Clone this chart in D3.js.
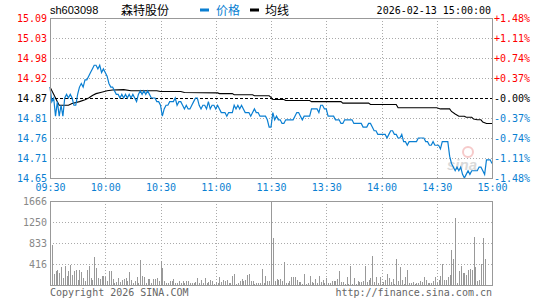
<!DOCTYPE html>
<html><head><meta charset="utf-8">
<script src="https://cdn.jsdelivr.net/npm/d3@7/dist/d3.min.js"></script>
<style>body{margin:0;background:#fff}svg{display:block}</style>
</head><body>
<script>
const prevClose = 14.87;
const priceTicks = ["15.09","15.03","14.98","14.92","14.87","14.81","14.76","14.71","14.65"];
const pctTicks = ["+1.48%","+1.11%","+0.74%","+0.37%","-0.00%","-0.37%","-0.74%","-1.11%","-1.48%"];
const timeLabels = ["09:30","10:00","10:30","11:00","11:30","13:30","14:00","14:30","15:00"];
const volTicks = [1666,1250,833,416];

const price = [
14.90,14.86,14.87,14.82,14.86,14.82,14.85,14.82,14.87,14.88,
14.87,14.88,14.87,14.85,14.85,14.88,14.90,14.91,14.90,14.92,
14.92,14.93,14.94,14.95,14.96,14.96,14.95,14.96,14.94,14.95,
14.94,14.93,14.91,14.90,14.90,14.89,14.88,14.88,14.87,14.88,
14.87,14.88,14.87,14.88,14.87,14.88,14.87,14.86,14.88,14.89,
14.88,14.89,14.88,14.89,14.88,14.87,14.87,14.87,14.86,14.86,
14.85,14.82,14.84,14.85,14.85,14.86,14.86,14.86,14.87,14.85,
14.86,14.86,14.85,14.84,14.85,14.84,14.84,14.85,14.86,14.87,
14.87,14.85,14.84,14.85,14.85,14.84,14.86,14.84,14.85,14.85,
14.84,14.85,14.84,14.83,14.83,14.83,14.82,14.83,14.83,14.83,
14.85,14.84,14.85,14.84,14.85,14.84,14.83,14.83,14.83,14.82,
14.83,14.84,14.83,14.83,14.82,14.82,14.82,14.82,14.81,14.79,
14.79,14.83,14.81,14.82,14.81,14.81,14.80,14.80,14.81,14.81,
14.81,14.81,14.81,14.82,14.83,14.83,14.82,14.81,14.82,14.82,
14.82,14.82,14.84,14.84,14.84,14.84,14.83,14.85,14.85,14.84,
14.84,14.82,14.82,14.82,14.82,14.81,14.81,14.81,14.80,14.80,
14.81,14.81,14.81,14.81,14.81,14.80,14.80,14.80,14.80,14.80,
14.79,14.79,14.79,14.80,14.80,14.79,14.78,14.78,14.77,14.77,
14.77,14.77,14.77,14.76,14.77,14.78,14.78,14.77,14.77,14.76,
14.76,14.77,14.75,14.75,14.74,14.75,14.75,14.75,14.75,14.75,
14.76,14.76,14.76,14.76,14.75,14.75,14.74,14.74,14.75,14.74,
14.74,14.74,14.73,14.75,14.75,14.75,14.75,14.71,14.69,14.68,
14.67,14.68,14.67,14.68,14.66,14.65,14.66,14.67,14.66,14.67,
14.67,14.67,14.67,14.68,14.68,14.67,14.66,14.70,14.70,14.70,
14.69];

const avgMinutes = [0,2,4,5,10,12,16,19,21,23,25,28,31,34,40,44,58,60,71,73,91,92,99,100,110,111,119,120,121,127,128,141,142,158,159,173,174,188,189,210,212,217,218,220,222,225,226,229,230,232,234,235,237,240];
const avgValues = [14.90,14.88,14.86,14.85,14.85,14.855,14.86,14.865,14.87,14.877,14.882,14.886,14.89,14.892,14.893,14.89,14.89,14.888,14.888,14.885,14.884,14.882,14.882,14.879,14.879,14.876,14.876,14.872,14.866,14.866,14.863,14.863,14.86,14.86,14.856,14.856,14.852,14.852,14.843,14.843,14.84,14.84,14.833,14.826,14.82,14.82,14.817,14.817,14.812,14.81,14.81,14.804,14.80,14.80];

const volume = [
86,800,218,284,304,238,350,139,383,172,
284,403,205,284,304,106,297,258,139,73,
304,370,139,106,555,337,139,126,185,185,
159,73,284,284,126,40,60,139,60,106,
119,139,73,258,106,40,73,152,40,502,
185,165,40,119,126,40,126,126,139,73,
469,337,86,46,46,73,73,126,46,46,
73,33,86,40,73,73,40,46,46,60,
139,40,106,40,139,40,60,106,73,20,
60,40,159,60,99,73,106,40,40,172,
218,20,40,73,119,73,106,192,218,73,
73,20,40,40,40,311,40,172,86,86,
1666,932,86,119,99,126,86,456,33,46,
73,159,159,165,106,60,60,20,218,20,
33,172,60,40,126,33,172,60,106,40,
139,33,46,73,73,73,126,284,60,60,
20,152,20,370,20,139,20,86,60,60,
86,370,60,99,139,575,60,159,40,159,
20,60,106,225,139,60,126,20,509,73,
350,106,20,152,304,46,40,60,20,33,
33,86,60,152,99,33,40,33,86,152,
40,106,185,416,106,106,165,205,695,509,
1322,40,284,370,231,231,205,297,311,304,
959,350,86,106,416,932,509,0,0,0,
0];

const W = 545, H = 300;
const L = 50, R = 492, PT = 18, PB = 178, VT = 201, VB = 285;
const RED = "#ff0000", BLUE = "#0a7fd2", GRAY = "#999";
const MONO = "'DejaVu Sans Mono', 'Liberation Mono', monospace";

const svg = d3.select("body").append("svg").attr("width", W).attr("height", H);
svg.append("rect").attr("width", W).attr("height", H).attr("fill", "#fff");

const x = d3.scaleLinear().domain([0, 240]).range([L, R]);
const y = d3.scaleLinear().domain([14.65, 15.09]).range([PB, PT]);
const yv = d3.scaleLinear().domain([0, 1666]).range([VB, VT]);
const levels = d3.range(9).map(i => 15.09 - i * 0.055);
const timeMins = d3.range(9).map(i => i * 30);

// grids
const g = svg.append("g");
levels.slice(1, 8).forEach((v, i) => {
  if (i === 3) return;
  g.append("line").attr("x1", L).attr("x2", R).attr("y1", Math.round(y(v)) + 0.5).attr("y2", Math.round(y(v)) + 0.5)
    .attr("stroke", "#aaa").attr("stroke-dasharray", "1,2");
});
timeMins.slice(1, 8).forEach(m => {
  const xx = Math.round(x(m)) + 0.5;
  g.append("line").attr("x1", xx).attr("x2", xx).attr("y1", PT).attr("y2", PB).attr("stroke", "#aaa").attr("stroke-dasharray", "1,2");
  g.append("line").attr("x1", xx).attr("x2", xx).attr("y1", VT).attr("y2", VB).attr("stroke", "#aaa").attr("stroke-dasharray", "1,2");
});
volTicks.slice(1).forEach(v => {
  g.append("line").attr("x1", L).attr("x2", R).attr("y1", Math.round(yv(v)) + 0.5).attr("y2", Math.round(yv(v)) + 0.5)
    .attr("stroke", "#aaa").attr("stroke-dasharray", "1,2");
});

// watermark
const wm = svg.append("g").attr("opacity", 0.55);
wm.append("circle").attr("cx", 468).attr("cy", 152).attr("r", 5).attr("fill", "none").attr("stroke", "#f0a0a0").attr("stroke-width", 2);
wm.append("text").attr("x", 462).attr("y", 170).attr("text-anchor", "middle").attr("font-family", "'Liberation Sans', sans-serif")
  .attr("font-size", 15).attr("font-weight", "bold").attr("font-style", "italic").attr("fill", "#bbb").text("sina");

// prev close dashed
svg.append("line").attr("x1", L).attr("x2", R).attr("y1", Math.round(y(prevClose)) + 0.5).attr("y2", Math.round(y(prevClose)) + 0.5)
  .attr("stroke", "#000").attr("stroke-dasharray", "3,2");

// volume bars
svg.append("g").selectAll("rect").data(volume).join("rect")
  .attr("x", (d, i) => Math.round(x(i)))
  .attr("y", d => yv(d))
  .attr("width", 1)
  .attr("height", d => VB - yv(d))
  .attr("fill", "#999")
  .attr("shape-rendering", "crispEdges");

// avg line
svg.append("path")
  .datum(avgMinutes.map((m, i) => [m, avgValues[i]]))
  .attr("fill", "none").attr("stroke", "#000").attr("stroke-width", 1.1)
  .attr("d", d3.line().x(d => x(d[0])).y(d => y(d[1])));

// price line
svg.append("path")
  .datum(price)
  .attr("fill", "none").attr("stroke", BLUE).attr("stroke-width", 1.2)
  .attr("d", d3.line().x((d, i) => x(i)).y(d => y(d)));

// frames
svg.append("rect").attr("x", L + 0.5).attr("y", PT + 0.5).attr("width", R - L).attr("height", PB - PT)
  .attr("fill", "none").attr("stroke", GRAY);
svg.append("rect").attr("x", L + 0.5).attr("y", VT + 0.5).attr("width", R - L).attr("height", VB - VT)
  .attr("fill", "none").attr("stroke", GRAY);

// axes
const colorFor = i => i < 4 ? RED : (i === 4 ? "#000" : BLUE);
const leftAxis = svg.append("g").attr("transform", `translate(${L - 3},0)`)
  .call(d3.axisLeft(y).tickValues(levels).tickSize(0).tickFormat((d, i) => priceTicks[i]));
leftAxis.select(".domain").remove();
leftAxis.selectAll("text").attr("font-family", MONO).attr("font-size", 10).attr("fill", (d, i) => colorFor(i)).attr("x", 0);

const rightAxis = svg.append("g").attr("transform", `translate(${R + 2},0)`)
  .call(d3.axisRight(y).tickValues(levels).tickSize(0).tickFormat((d, i) => pctTicks[i]));
rightAxis.select(".domain").remove();
rightAxis.selectAll("text").attr("font-family", MONO).attr("font-size", 10).attr("fill", (d, i) => colorFor(i)).attr("x", 0);

const timeAxis = svg.append("g").attr("transform", `translate(0,${PB + 4})`)
  .call(d3.axisBottom(x).tickValues(timeMins).tickSize(0).tickFormat((d, i) => timeLabels[i]));
timeAxis.select(".domain").remove();
timeAxis.selectAll("text").attr("font-family", MONO).attr("font-size", 10).attr("fill", BLUE).attr("y", 2);

const volAxis = svg.append("g").attr("transform", `translate(${L - 3},0)`)
  .call(d3.axisLeft(yv).tickValues(volTicks).tickSize(0).tickFormat(d => d));
volAxis.select(".domain").remove();
volAxis.selectAll("text").attr("font-family", MONO).attr("font-size", 10).attr("fill", "#888").attr("x", 0);

// header
svg.append("text").attr("x", 50).attr("y", 14).attr("font-family", "'Liberation Sans', Arial, sans-serif").attr("font-size", 11).text("sh603098");
svg.append("text").attr("x", 121).attr("y", 15).attr("font-family", "'Noto Sans CJK SC', sans-serif").attr("font-size", 12).text("森特股份");
svg.append("rect").attr("x", 200).attr("y", 8.5).attr("width", 9).attr("height", 3).attr("fill", BLUE);
svg.append("text").attr("x", 216).attr("y", 15).attr("font-family", "'Noto Sans CJK SC', sans-serif").attr("font-size", 12).attr("fill", BLUE).text("价格");
svg.append("rect").attr("x", 250).attr("y", 8.5).attr("width", 9).attr("height", 3).attr("fill", "#000");
svg.append("text").attr("x", 265).attr("y", 15).attr("font-family", "'Noto Sans CJK SC', sans-serif").attr("font-size", 12).text("均线");
svg.append("text").attr("x", 491).attr("y", 14).attr("text-anchor", "end").attr("font-family", MONO).attr("font-size", 10).text("2026-02-13 15:00:00");

// footer
svg.append("text").attr("x", 50).attr("y", 296).attr("font-family", MONO).attr("font-size", 10).attr("fill", "#666").text("Copyright 2026 SINA.COM");
svg.append("text").attr("x", 492).attr("y", 296).attr("text-anchor", "end").attr("font-family", MONO).attr("font-size", 10).attr("fill", "#666").text("http://finance.sina.com.cn");
</script>
</body></html>
